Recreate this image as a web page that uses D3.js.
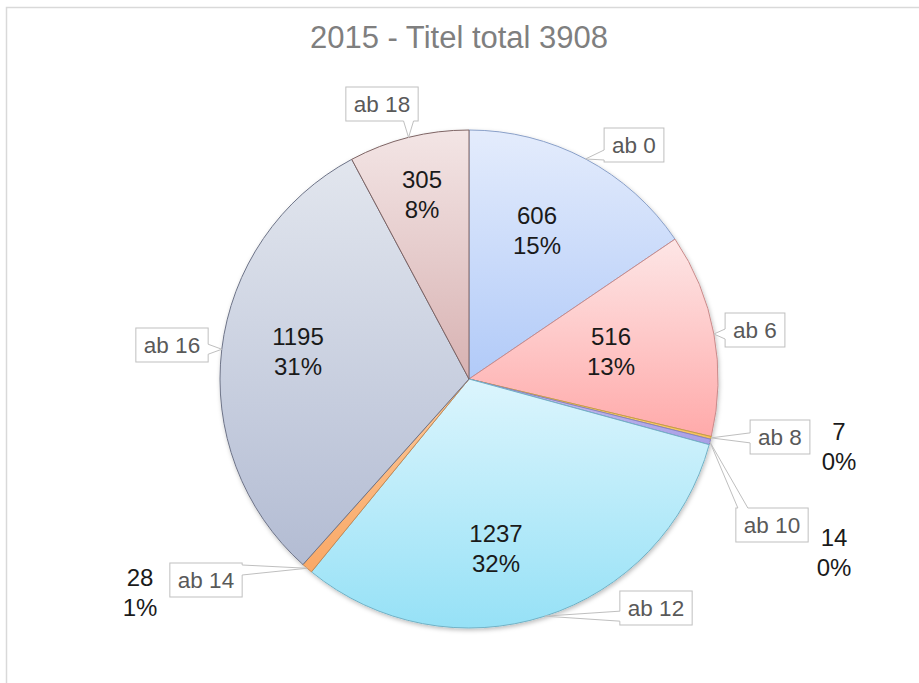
<!DOCTYPE html>
<html>
<head>
<meta charset="utf-8">
<script src="https://cdn.jsdelivr.net/npm/d3@7"></script>
<style>
  html, body { margin: 0; padding: 0; background: #ffffff; }
  svg { display: block; }
  text { font-family: "Liberation Sans", Arial, sans-serif; }
</style>
</head>
<body>
<svg id="chart" width="919" height="683"></svg>
<script>
// ---- data ----
const title = "2015 - Titel total 3908";
const categories = ["ab 0", "ab 6", "ab 8", "ab 10", "ab 12", "ab 14", "ab 16", "ab 18"];
const values = [606, 516, 7, 14, 1237, 28, 1195, 305];
const percentLabels = ["15%", "13%", "0%", "0%", "32%", "1%", "31%", "8%"];

// ---- styles ----
const fillTop    = ["#e4ecfc", "#fde6e6", "#fbe3a0", "#c9c3f0", "#dcf5fd", "#fcc89a", "#e2e6ee", "#f3e5e5"];
const fillBottom = ["#b1caf8", "#ffaaaa", "#f5c05a", "#a79ee6", "#96e1f6", "#f9a866", "#b3bcd3", "#d8b2b2"];
const strokeCol  = ["#8aa0c8", "#c98b8b", "#c8a040", "#8a80c0", "#72b2c6", "#c88850", "#6e7488", "#7e6464"];

// ---- layout ----
const cx = 469, cy = 379, R = 249;
// value-label block centres relative to pie centre
const valuePos = [[68, -148], [142, -27], [370, 68], [365, 174], [27, 170], [-329, 214], [-171, -27], [-47, -184]];
// callout box centres relative to pie centre
const boxPos = [[165, -234], [286, -49], [311, 58], [303, 146], [187, 229], [-263, 201], [-297, -34], [-87, -275]];

const svg = d3.select("#chart");
const defs = svg.append("defs");

// outer chart border (chart area extends past the window)
svg.append("rect")
  .attr("x", 6.5).attr("y", 7.5).attr("width", 1000).attr("height", 1000)
  .attr("fill", "#ffffff").attr("stroke", "#d9d9d9").attr("stroke-width", 1.5);

// title
svg.append("text")
  .attr("x", 459).attr("y", 48)
  .attr("text-anchor", "middle")
  .attr("font-size", 31)
  .attr("fill", "#7f7f7f")
  .text(title);

// gradients
categories.forEach((c, i) => {
  const g = defs.append("linearGradient")
    .attr("id", "grad" + i)
    .attr("x1", 0).attr("y1", 0).attr("x2", 0).attr("y2", 1);
  g.append("stop").attr("offset", "0%").attr("stop-color", fillTop[i]);
  g.append("stop").attr("offset", "100%").attr("stop-color", fillBottom[i]);
});

const shadow = defs.append("filter").attr("id", "shadow")
  .attr("x", "-10%").attr("y", "-10%").attr("width", "120%").attr("height", "120%");
shadow.append("feDropShadow")
  .attr("dx", 1).attr("dy", 2).attr("stdDeviation", 2)
  .attr("flood-color", "#000").attr("flood-opacity", 0.25);

const pie = d3.pie().sort(null).value(d => d);
const arcs = pie(values);
const arc = d3.arc().innerRadius(0).outerRadius(R);
const edgeArc = d3.arc().innerRadius(R).outerRadius(R);

const g = svg.append("g").attr("transform", `translate(${cx},${cy})`);

g.append("g").attr("filter", "url(#shadow)")
  .selectAll("path")
  .data(arcs)
  .join("path")
  .attr("d", arc)
  .attr("fill", (d, i) => `url(#grad${i})`)
  .attr("stroke", (d, i) => strokeCol[i])
  .attr("stroke-width", 1)
  .attr("stroke-linejoin", "round");

// callouts
const fontSize = 22.5;
const calloutG = g.append("g");
arcs.forEach((d, i) => {
  const [ax, ay] = edgeArc.centroid(d);
  const grp = calloutG.append("g");
  const txt = grp.append("text")
    .attr("x", boxPos[i][0]).attr("y", boxPos[i][1])
    .attr("text-anchor", "middle")
    .attr("dominant-baseline", "central")
    .attr("font-size", fontSize)
    .attr("fill", "#595959")
    .text(categories[i]);
  const bb = txt.node().getBBox();
  const w = bb.width + 16, h = 34;
  const x0 = boxPos[i][0] - w / 2, y0 = boxPos[i][1] - h / 2, x1 = x0 + w, y1 = y0 + h;
  const bcx = boxPos[i][0], bcy = boxPos[i][1];
  const dxn = (ax - bcx) / (w / 2), dyn = (ay - bcy) / (h / 2);
  let b1, b2, in1, in2;
  const hb = 5;
  if (Math.abs(dxn) > Math.abs(dyn)) {
    const sx = dxn < 0 ? x0 : x1;
    const inset = dxn < 0 ? 1.5 : -1.5;
    const py = Math.max(y0 + hb + 2, Math.min(y1 - hb - 2, ay));
    b1 = [sx, py - hb]; b2 = [sx, py + hb];
    in1 = [sx + inset, py - hb]; in2 = [sx + inset, py + hb];
  } else {
    const sy = dyn < 0 ? y0 : y1;
    const inset = dyn < 0 ? 1.5 : -1.5;
    const px = Math.max(x0 + hb + 2, Math.min(x1 - hb - 2, ax));
    b1 = [px - hb, sy]; b2 = [px + hb, sy];
    in1 = [px - hb, sy + inset]; in2 = [px + hb, sy + inset];
  }
  grp.insert("rect", "text")
    .attr("x", x0).attr("y", y0).attr("width", w).attr("height", h)
    .attr("fill", "#ffffff").attr("stroke", "#bfbfbf").attr("stroke-width", 1);
  grp.insert("path", "text")
    .attr("d", `M${in1[0]},${in1[1]}L${b1[0]},${b1[1]}L${ax},${ay}L${b2[0]},${b2[1]}L${in2[0]},${in2[1]}Z`)
    .attr("fill", "#ffffff").attr("stroke", "none");
  grp.insert("path", "text")
    .attr("d", `M${b1[0]},${b1[1]}L${ax},${ay}L${b2[0]},${b2[1]}`)
    .attr("fill", "none").attr("stroke", "#bfbfbf").attr("stroke-width", 1);
});

// value labels
const valG = g.append("g");
arcs.forEach((d, i) => {
  const t = valG.append("text")
    .attr("x", valuePos[i][0]).attr("y", valuePos[i][1])
    .attr("text-anchor", "middle")
    .attr("font-size", 24)
    .attr("fill", "#1a1a1a");
  t.append("tspan").attr("x", valuePos[i][0]).attr("dy", "-0.275em").text(values[i]);
  t.append("tspan").attr("x", valuePos[i][0]).attr("dy", "1.25em").text(percentLabels[i]);
});
</script>
</body>
</html>
